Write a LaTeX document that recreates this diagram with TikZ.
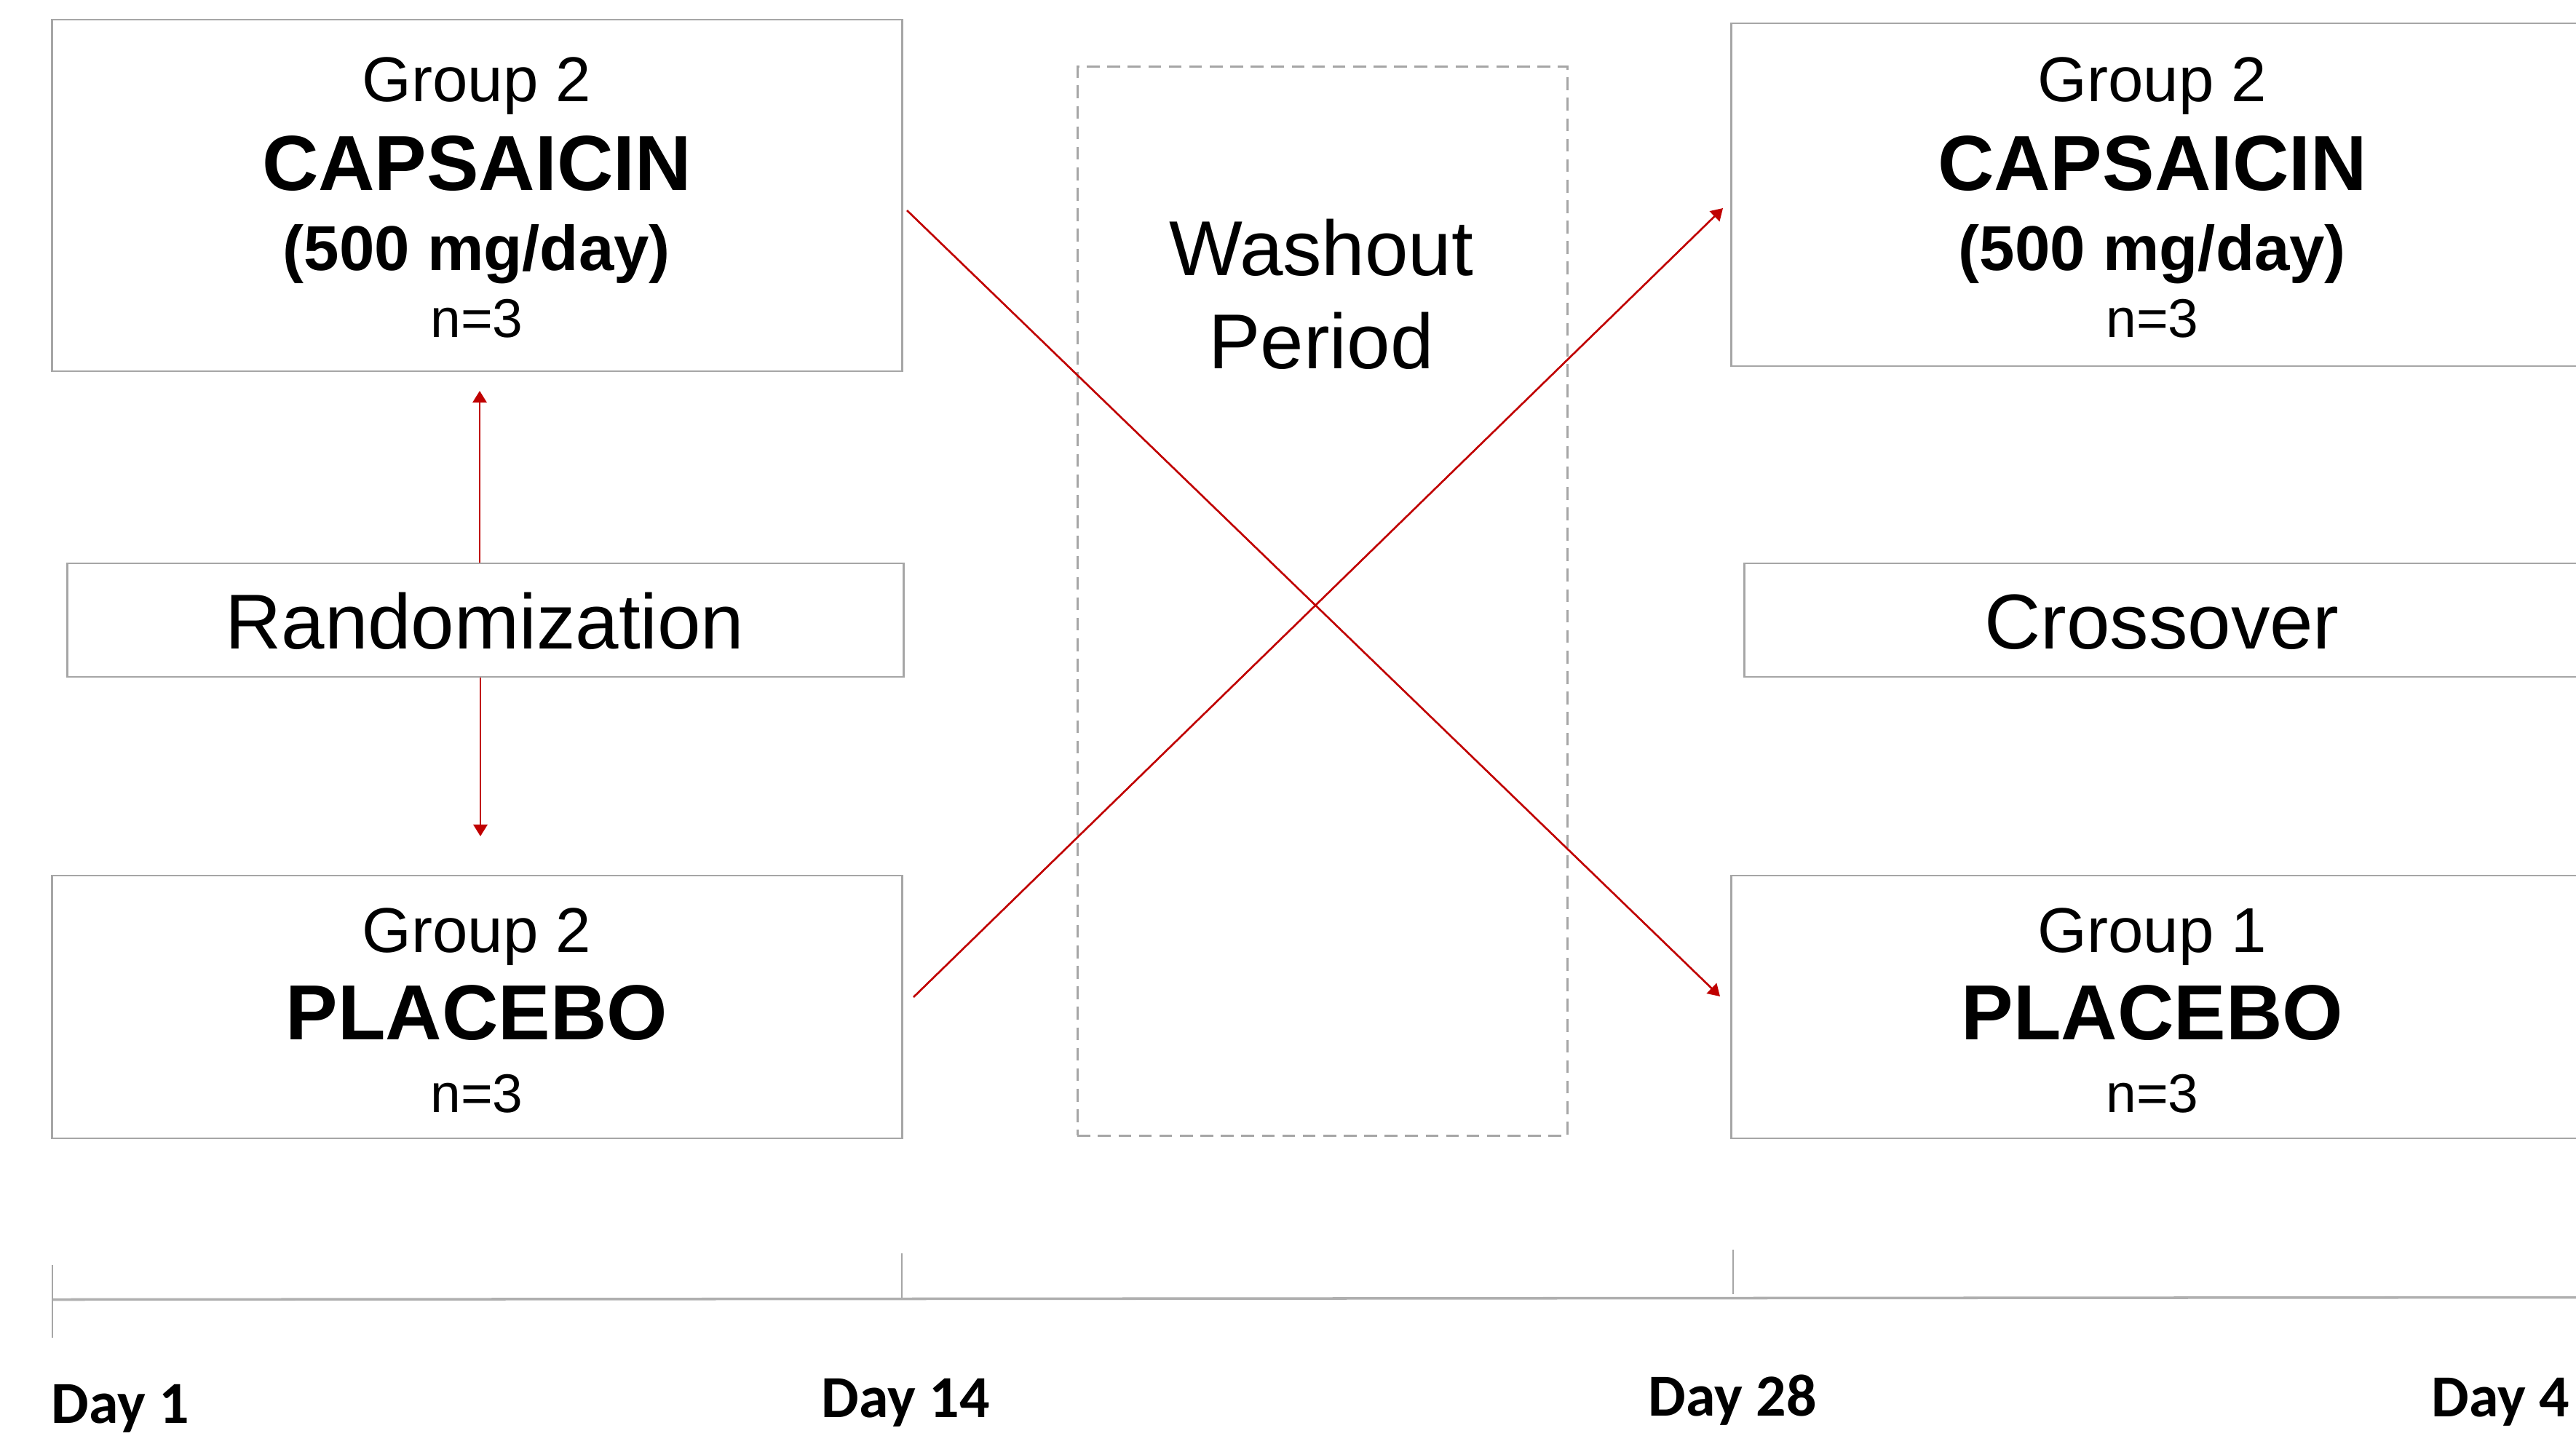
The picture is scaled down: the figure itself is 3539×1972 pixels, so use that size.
\documentclass[tikz,border=0pt]{standalone}
\usepackage{fontspec}
\setmainfont{Liberation Sans}
\newfontfamily\dayfont{Carlito}
\usetikzlibrary{arrows.meta}
\definecolor{boxgray}{RGB}{166,166,166}
\definecolor{axisgray}{RGB}{175,175,175}
\definecolor{arrred}{RGB}{192,0,0}
\tikzset{
  grpbox/.style={draw=boxgray, line width=0.7pt, rectangle, inner sep=0pt, minimum width=11.67cm},
  washbox/.style={draw=boxgray, line width=0.7pt, dash pattern=on 5pt off 3pt, rectangle, inner sep=0pt},
  txt/.style={inner sep=0pt, anchor=base},
  grp/.style={txt, font=\fontsize{24.75pt}{28pt}\selectfont},
  drug/.style={txt, font=\fontsize{30.5pt}{34pt}\selectfont\bfseries},
  dose/.style={txt, font=\fontsize{24.75pt}{28pt}\selectfont\bfseries},
  nn/.style={txt, font=\fontsize{21.3pt}{24pt}\selectfont},
  big/.style={txt, font=\fontsize{30.4pt}{34pt}\selectfont},
  day/.style={inner sep=0pt, anchor=base west, font=\fontsize{23.3pt}{26pt}\selectfont\dayfont\bfseries},
  redarr/.style={draw=arrred, line width=0.75pt, -{Triangle[length=4.6pt, width=5.5pt]}},
  tick/.style={draw=boxgray, line width=0.35pt}
}
\begin{document}
\begin{tikzpicture}[x=0.01cm, y=-0.01cm]
\useasboundingbox (0,0) rectangle (3539,1972);
% boxes
\node[grpbox, minimum height=4.83cm] (tl) at (655.5,268.5) {};
\node[grpbox, minimum height=1.56cm, minimum width=11.48cm] (rand) at (667,852) {};
\node[grpbox, minimum height=3.61cm] (bl) at (655.5,1383.5) {};
\node[washbox, minimum width=6.73cm, minimum height=14.68cm] (wash) at (1817,826) {};
\node[grpbox, minimum height=4.71cm] (tr) at (2962.5,267.5) {};
\node[grpbox, minimum height=1.56cm] (cross) at (2980.5,852) {};
\node[grpbox, minimum height=3.61cm] (br) at (2962.5,1383.5) {};
% texts left top
\node[grp] (tlg) at (655,139) {Group 2};
\node[drug] (tld) at (655,261) {CAPSAICIN};
\node[dose] (tlm) at (655,371) {(500 mg/day)};
\node[nn] (tln) at (655,463) {n=3};
% randomization
\node[big] (randt) at (666,891) {Randomization};
% left bottom
\node[grp] (blg) at (655,1308) {Group 2};
\node[drug] (bld) at (655,1428) {PLACEBO};
\node[nn] (bln) at (655,1528) {n=3};
% washout
\node[big] (washa) at (1815,378) {Washout};
\node[big] (washb) at (1815,506) {Period};
% right top
\node[grp] (trg) at (2957,139) {Group 2};
\node[drug] (trd) at (2957,261) {CAPSAICIN};
\node[dose] (trm) at (2957,371) {(500 mg/day)};
\node[nn] (trn) at (2957,463) {n=3};
% crossover
\node[big] (crosst) at (2970,891) {Crossover};
% right bottom
\node[grp] (brg) at (2957,1308) {Group 1};
\node[drug] (brd) at (2957,1428) {PLACEBO};
\node[nn] (brn) at (2957,1528) {n=3};
% arrows
\coordinate (upend) at (659,537);
\coordinate (downend) at (660,1149);
\coordinate (d1s) at (1246,289);
\coordinate (d1e) at (2363,1369);
\coordinate (d2s) at (1255,1370);
\coordinate (d2e) at (2367,286);
\draw[redarr] (rand.north -| upend) -- (upend);
\draw[redarr] (rand.south -| downend) -- (downend);
\draw[redarr] (d1s) -- (d1e);
\draw[redarr] (d2s) -- (d2e);
% axis
\coordinate (ax0) at (72,1785.5);
\coordinate (ax1) at (3539,1782.5);
\draw[draw=axisgray, line width=1pt] (ax0) -- (ax1);
\coordinate (t1a) at (72,1738); \coordinate (t1b) at (72,1838);
\coordinate (t2a) at (1239,1722); \coordinate (t2b) at (1239,1783);
\coordinate (t3a) at (2381,1717); \coordinate (t3b) at (2381,1778);
\draw[tick] (t1a) -- (t1b);
\draw[tick] (t2a) -- (t2b);
\draw[tick] (t3a) -- (t3b);
% day labels
\node[day] (day1) at (70,1955) {Day 1};
\node[day] (day14) at (1128,1947) {Day 14};
\node[day] (day28) at (2264,1945) {Day 28};
\node[day] (day42) at (3340,1946) {Day 4};
\end{tikzpicture}
\end{document}
